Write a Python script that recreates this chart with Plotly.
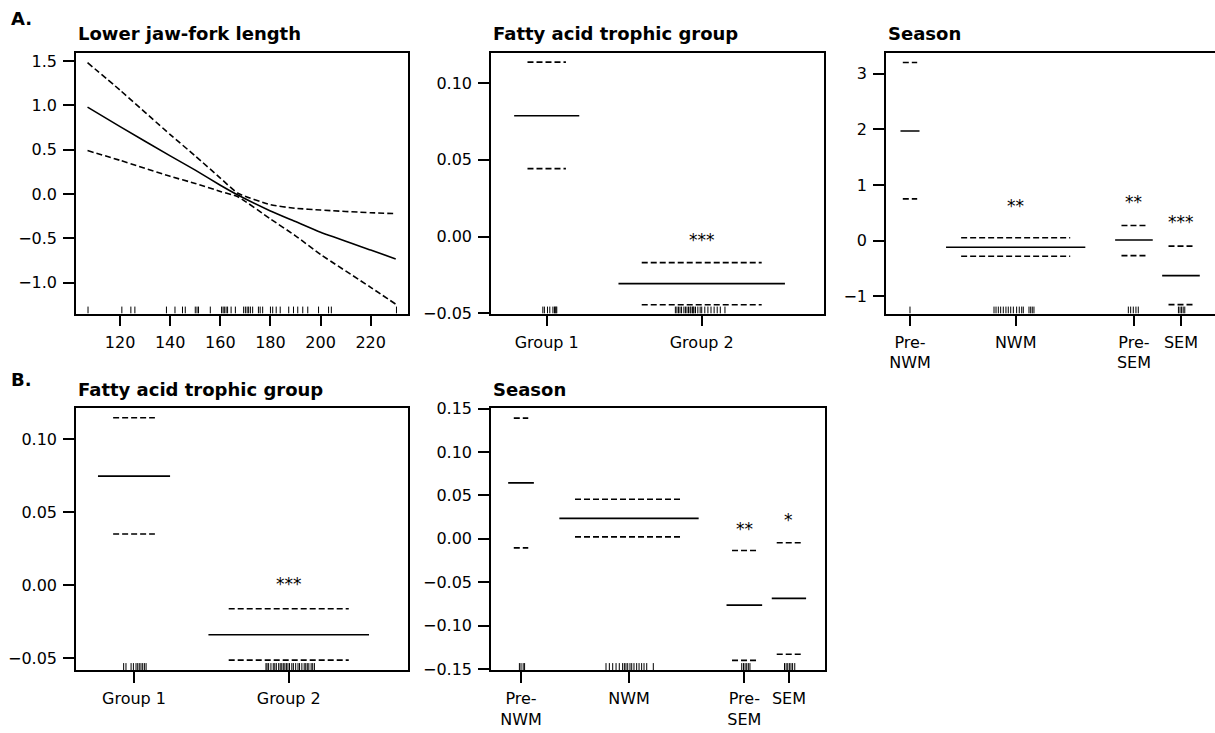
import plotly.graph_objects as go

W, H = 1215, 733

# ---------------- DATA ----------------
# Panel A, smooth term: Lower jaw-fork length
ljfl_x = [107, 120, 140, 150, 160, 167, 180, 190, 200, 220, 230]
ljfl_fit = [0.98, 0.76, 0.43, 0.27, 0.10, -0.01, -0.19, -0.31, -0.43, -0.63, -0.73]
ljfl_upper = [1.48, 1.17, 0.67, 0.43, 0.18, 0.01, -0.12, -0.16, -0.18, -0.21, -0.22]
ljfl_lower = [0.49, 0.38, 0.20, 0.12, 0.03, -0.03, -0.28, -0.47, -0.68, -1.05, -1.24]
ljfl_rug = [107.2, 120.7, 124.3, 125.9, 138.5, 141.9, 144.9, 146.0, 150.0, 150.7, 151.3,
            156.0, 160.5, 161.1, 161.6, 162.3, 162.9, 164.3, 166.0, 169.3, 170.0, 170.7,
            171.3, 172.0, 172.9, 175.2, 175.9, 176.9, 180.0, 180.9, 182.3, 183.9, 187.3,
            189.2, 190.9, 192.9, 194.9, 199.2, 203.2, 204.3, 230.3]
ljfl_ticks = [120, 140, 160, 180, 200, 220]

# Fatty acid trophic group
fatty_levels = ["Group 1", "Group 2"]
a_fatty_pos = [1, 2]
a_fatty_fit = [0.0788, -0.0307]
a_fatty_upper = [0.1137, -0.0170]
a_fatty_lower = [0.0443, -0.0444]
a_fatty_sig = ["", "***"]
a_fatty_rug = [0.975, 0.985, 1.005, 1.02, 1.04, 1.05, 1.055, 1.06, 1.065,
               1.83, 1.84, 1.85, 1.86, 1.87, 1.885, 1.895, 1.905, 1.915, 1.925, 1.93,
               1.94, 1.945, 1.95, 1.96, 1.975, 1.99, 2.0, 2.02, 2.04, 2.06, 2.08,
               2.1, 2.12, 2.15]

b_fatty_pos = [1, 2]
b_fatty_fit = [0.0747, -0.0338]
b_fatty_upper = [0.1146, -0.0160]
b_fatty_lower = [0.0351, -0.0512]
b_fatty_sig = ["", "***"]
b_fatty_rug = [0.933, 0.948, 0.981, 0.996, 1.013, 1.024, 1.034, 1.045, 1.056, 1.067, 1.078,
               1.853, 1.86, 1.87, 1.885, 1.9, 1.91, 1.92, 1.935, 1.945, 1.955, 1.965,
               1.975, 1.985, 1.995, 2.005, 2.02, 2.03, 2.045, 2.06, 2.07, 2.085, 2.1,
               2.11, 2.12, 2.13, 2.145, 2.155, 2.166]

# Season
season_levels = ["Pre-<br>NWM", "NWM", "Pre-<br>SEM", "SEM"]
a_season_pos = [1, 2, 3.119, 3.564]
a_season_fit = [1.97, -0.12, 0.01, -0.63]
a_season_upper = [3.20, 0.05, 0.27, -0.10]
a_season_lower = [0.75, -0.28, -0.27, -1.15]
a_season_sig = ["", "**", "**", "***"]
a_season_rug = [1.0,
                1.795, 1.814, 1.836, 1.858, 1.883, 1.908, 1.930, 1.953, 1.978, 2.009,
                2.034, 2.057, 2.072, 2.126, 2.142, 2.157, 2.173,
                3.066, 3.088, 3.113, 3.138, 3.16,
                3.54, 3.555, 3.57, 3.585, 3.60]

b_season_pos = [1, 2, 3.068, 3.481]
b_season_fit = [0.0644, 0.0236, -0.0764, -0.0686]
b_season_upper = [0.139, 0.0456, -0.0135, -0.0046]
b_season_lower = [-0.0104, 0.0023, -0.140, -0.133]
b_season_sig = ["", "", "**", "*"]
b_season_rug = [0.985, 1.0, 1.02, 1.033,
                1.787, 1.818, 1.849, 1.880, 1.910, 1.941, 1.957, 1.972, 1.988, 2.009,
                2.025, 2.046, 2.071, 2.093, 2.117, 2.139, 2.164, 2.225,
                3.044, 3.06, 3.075, 3.09, 3.105, 3.12,
                3.44, 3.455, 3.47, 3.485, 3.5, 3.515, 3.535]

# ---------------- STYLE / LAYOUT ----------------
FONT = "DejaVu Sans, Liberation Sans, Arial, sans-serif"
TICK_FONT = 16
TITLE_FONT = 18
DASH = "6px,3px"
LW = 1.6
RUG_PX = 7

# the page is shown inside a 716px-high band starting 8px from the top
BAND_TOP, BAND_H = 8.0, 716.0


def py2paper(py):
    return 1 - (py - BAND_TOP) / BAND_H


# panel boxes in target pixels: (left, right, top, bottom)
panels = {
    "A1": dict(box=(76, 408, 52, 313), xr=[102.4, 234.9], yr=[-1.346, 1.59]),
    "A2": dict(box=(491, 824, 52, 313), xr=[0.6406, 2.789], yr=[-0.0502, 0.1197]),
    "A3": dict(box=(886, 1215, 52, 313), xr=[0.773, 3.886], yr=[-1.311, 3.371]),
    "B1": dict(box=(76, 408, 408, 670), xr=[0.625, 2.771], yr=[-0.058, 0.121]),
    "B2": dict(box=(491, 825, 408, 670), xr=[0.722, 3.815], yr=[-0.1512, 0.1502]),
}
order = ["A1", "A2", "A3", "B1", "B2"]

# half-widths of the fitted level segments and of the CI segments
hw = {
    "A2": ([0.21, 0.537], [0.124, 0.387]),
    "A3": ([0.09, 0.659, 0.178, 0.178], [0.068, 0.516, 0.118, 0.118]),
    "B1": ([0.233, 0.519], [0.135, 0.388]),
    "B2": ([0.119, 0.645, 0.165, 0.159], [0.067, 0.5, 0.114, 0.113]),
}
star_px = {
    "A2": [0, 24], "A3": [0, 33, 25, 25], "B1": [0, 26], "B2": [0, 0, 23, 24],
}

fig = go.Figure()
layout = dict(width=W, height=H, margin=dict(l=0, r=0, t=0, b=0), autosize=False,
              paper_bgcolor="white", plot_bgcolor="white", showlegend=False,
              font=dict(family=FONT, color="black", size=TICK_FONT))
annotations = []


def fmt(v, nd):
    s = f"{abs(v):.{nd}f}"
    return ("\u2212" + s) if v < 0 else s


axis_ids = {}
for i, key in enumerate(order, start=1):
    p = panels[key]
    l, r, t, b = p["box"]
    xa = "xaxis" if i == 1 else f"xaxis{i}"
    ya = "yaxis" if i == 1 else f"yaxis{i}"
    xref = "x" if i == 1 else f"x{i}"
    yref = "y" if i == 1 else f"y{i}"
    axis_ids[key] = (xref, yref)
    common = dict(showline=True, linecolor="black", linewidth=LW, ticks="outside",
                  ticklen=11, tickwidth=LW, tickcolor="black", showgrid=False,
                  zeroline=False, tickfont=dict(size=TICK_FONT, family=FONT, color="black"))
    layout[xa] = dict(common, domain=[l / W, r / W], range=p["xr"], anchor=yref,
                      mirror=True, ticklabelstandoff=2)
    layout[ya] = dict(common, domain=[py2paper(b), py2paper(t)], range=p["yr"], anchor=xref,
                      mirror=(key != "A3"), ticklabelstandoff=3)

# y ticks
ytick_sets = {
    "A1": ([1.5, 1.0, 0.5, 0.0, -0.5, -1.0], 1),
    "A2": ([0.10, 0.05, 0.0, -0.05], 2),
    "A3": ([3, 2, 1, 0, -1], 0),
    "B1": ([0.10, 0.05, 0.0, -0.05], 2),
    "B2": ([0.15, 0.10, 0.05, 0.0, -0.05, -0.10, -0.15], 2),
}
for i, key in enumerate(order, start=1):
    ya = "yaxis" if i == 1 else f"yaxis{i}"
    vals, nd = ytick_sets[key]
    layout[ya]["tickvals"] = vals
    layout[ya]["ticktext"] = [fmt(v, nd) for v in vals]

layout["xaxis"]["tickvals"] = ljfl_ticks
layout["xaxis"]["ticktext"] = [str(v) for v in ljfl_ticks]
layout["xaxis2"]["tickvals"] = a_fatty_pos
layout["xaxis2"]["ticktext"] = fatty_levels
layout["xaxis3"]["tickvals"] = a_season_pos
layout["xaxis3"]["ticktext"] = season_levels
layout["xaxis4"]["tickvals"] = b_fatty_pos
layout["xaxis4"]["ticktext"] = fatty_levels
layout["xaxis5"]["tickvals"] = b_season_pos
layout["xaxis5"]["ticktext"] = season_levels


def add_rug(key, xs):
    xref, yref = axis_ids[key]
    p = panels[key]
    l, r, t, b = p["box"]
    y0 = p["yr"][0]
    h = RUG_PX / (b - t) * (p["yr"][1] - p["yr"][0])
    xx, yy = [], []
    for v in xs:
        xx += [v, v, None]
        yy += [y0, y0 + h, None]
    fig.add_trace(go.Scatter(x=xx, y=yy, mode="lines", xaxis=xref, yaxis=yref,
                             line=dict(color="black", width=1.0), hoverinfo="skip"))


# Panel A1: smooth
xr_, yr_ = axis_ids["A1"]
fig.add_trace(go.Scatter(x=ljfl_x, y=ljfl_fit, mode="lines", xaxis=xr_, yaxis=yr_,
                         line=dict(color="black", width=LW, shape="spline", smoothing=0.5)))
for s in (ljfl_upper, ljfl_lower):
    fig.add_trace(go.Scatter(x=ljfl_x, y=s, mode="lines", xaxis=xr_, yaxis=yr_,
                             line=dict(color="black", width=LW, dash=DASH,
                                       shape="spline", smoothing=0.5)))
add_rug("A1", ljfl_rug)


def factor_panel(key, pos, fit, up, lo, sig, rug):
    xref, yref = axis_ids[key]
    fhw, chw = hw[key]
    fx, fy, ux, uy, lx, ly = [], [], [], [], [], []
    for j in range(len(pos)):
        fx += [pos[j] - fhw[j], pos[j] + fhw[j], None]
        fy += [fit[j], fit[j], None]
        ux += [pos[j] - chw[j], pos[j] + chw[j], None]
        uy += [up[j], up[j], None]
        lx += [pos[j] - chw[j], pos[j] + chw[j], None]
        ly += [lo[j], lo[j], None]
    fig.add_trace(go.Scatter(x=fx, y=fy, mode="lines", xaxis=xref, yaxis=yref,
                             line=dict(color="black", width=LW)))
    for xx, yy in ((ux, uy), (lx, ly)):
        fig.add_trace(go.Scatter(x=xx, y=yy, mode="lines", xaxis=xref, yaxis=yref,
                                 line=dict(color="black", width=LW, dash=DASH)))
    add_rug(key, rug)
    for j, s in enumerate(sig):
        if s:
            annotations.append(dict(x=pos[j], y=up[j], xref=xref, yref=yref, text=s,
                                    showarrow=False, xanchor="center", yanchor="middle",
                                    yshift=star_px[key][j] - 1,
                                    font=dict(size=TICK_FONT + 1, family=FONT, color="black")))


factor_panel("A2", a_fatty_pos, a_fatty_fit, a_fatty_upper, a_fatty_lower, a_fatty_sig, a_fatty_rug)
factor_panel("A3", a_season_pos, a_season_fit, a_season_upper, a_season_lower, a_season_sig, a_season_rug)
factor_panel("B1", b_fatty_pos, b_fatty_fit, b_fatty_upper, b_fatty_lower, b_fatty_sig, b_fatty_rug)
factor_panel("B2", b_season_pos, b_season_fit, b_season_upper, b_season_lower, b_season_sig, b_season_rug)

# titles
titles = {"A1": "Lower jaw-fork length", "A2": "Fatty acid trophic group", "A3": "Season",
          "B1": "Fatty acid trophic group", "B2": "Season"}
for key, txt in titles.items():
    l, r, t, b = panels[key]["box"]
    annotations.append(dict(x=l / W, y=py2paper(t - 19), xref="paper", yref="paper",
                            text=f"<b>{txt}</b>", showarrow=False, xanchor="left",
                            yanchor="middle", font=dict(size=TITLE_FONT, family=FONT, color="black")))
for lab, py in (("A.", 17.5), ("B.", 379)):
    annotations.append(dict(x=9 / W, y=py2paper(py), xref="paper", yref="paper",
                            text=f"<b>{lab}</b>", showarrow=False, xanchor="left",
                            yanchor="middle", font=dict(size=TITLE_FONT, family=FONT, color="black")))

layout["annotations"] = annotations
fig.update_layout(**layout)
fig.write_html(
    "out.html",
    config={"displayModeBar": False, "responsive": False},
    post_script=("document.documentElement.style.margin='0px';"
                 "document.documentElement.style.padding='0px';"
                 "document.documentElement.style.overflow='hidden';"
                 "document.body.style.margin='0px';"
                 "document.body.style.padding='0px';"
                 "document.body.style.overflow='hidden';"),
)
